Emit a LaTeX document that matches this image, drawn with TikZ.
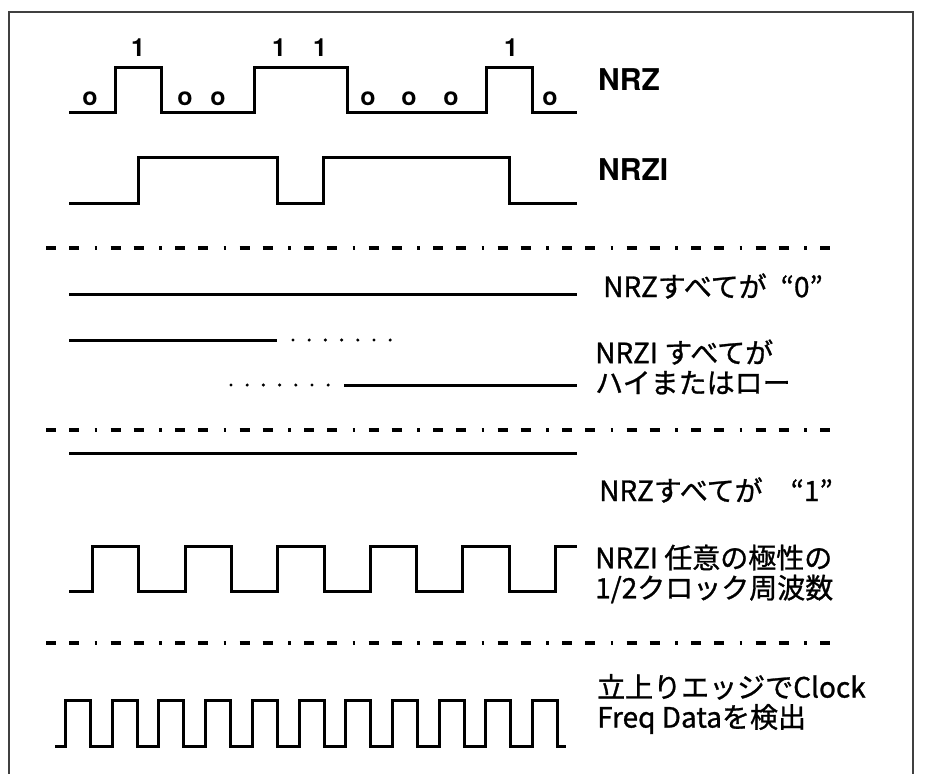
\documentclass[tikz,border=0pt]{standalone}
\usepackage{fontspec}
\usepackage{tikz}
\usepackage{xcolor}
\newfontfamily\herosfont{TeX Gyre Heros}
\newfontfamily\jpfont[FakeBold=1]{Noto Sans CJK JP}
\newcommand\bitfont{\herosfont\bfseries\fontsize{25}{25}\selectfont}
\newcommand\namefont{\herosfont\bfseries\fontsize{30}{30}\selectfont}
\newcommand\notefont{\jpfont\fontsize{28}{30}\selectfont}
\tikzset{
  wave/.style={line width=3pt, line join=miter},
  level/.style={line width=3pt},
  dotlevel/.style={line width=3.4pt, line cap=round, dash pattern=on 0pt off 16.2pt},
  sepline/.style={line width=3.5pt, dash pattern=on 10pt off 13pt on 10pt off 15.5pt on 2.5pt off 13.5pt},
  bitlbl/.style={inner sep=0pt, font=\bitfont},
  signame/.style={anchor=west, inner sep=0pt, font=\namefont},
  note/.style={anchor=west, inner sep=0pt, align=left, font=\notefont}
}

\begin{document}
\begin{tikzpicture}[x=1pt,y=1pt,yscale=-1,xscale=1]
\useasboundingbox (0,0) rectangle (930,774);
%Frame
\draw [color=black!75, line width=1.5]   (9,774) -- (9,12) -- (913,12) -- (913,774) ;
%Shape: NRZ signal
\draw [wave]   (69,112) -- (115,112) -- (115,67) -- (161,67) -- (161,112) -- (254,112) -- (254,67) -- (347,67) -- (347,112) -- (486,112) -- (486,67) -- (532,67) -- (532,112) -- (577,112) ;
%Text Node bits
\node [bitlbl] (b1a) at (138,48) {1};
\node [bitlbl] (b1b) at (279,48) {1};
\node [bitlbl] (b1c) at (320,48) {1};
\node [bitlbl] (b1d) at (511,48) {1};
\node [bitlbl] (b0a) at (90,99) {o};
\node [bitlbl] (b0b) at (185,99) {o};
\node [bitlbl] (b0c) at (218,99) {o};
\node [bitlbl] (b0d) at (368,99) {o};
\node [bitlbl] (b0e) at (409,99) {o};
\node [bitlbl] (b0f) at (451,99) {o};
\node [bitlbl] (b0g) at (550,99) {o};
%Text Node
\node [signame] (nrz) at (598,80) {NRZ};
%Shape: NRZI signal
\draw [wave]   (69,203) -- (138,203) -- (138,157) -- (277,157) -- (277,203) -- (323,203) -- (323,157) -- (509,157) -- (509,203) -- (577,203) ;
%Text Node
\node [signame] (nrzi) at (598,170) {NRZI};
%Straight Lines separator
\draw [sepline]   (46,248) -- (842,248) ;
%Straight Lines all zero
\draw [level]   (69,294) -- (577,294) ;
\node [note] (allzero) at (603,286) {NRZすべてが\hspace{14pt}“0”};
%Straight Lines high or low
\draw [level]   (69,340) -- (277,340) ;
\draw [dotlevel]   (293,340) -- (392,340) ;
\draw [dotlevel]   (231,385) -- (330,385) ;
\draw [level]   (344,385) -- (577,385) ;
\node [note] (hilo) at (595,367) {NRZI すべてが\\ハイまたはロー};
%Straight Lines separator
\draw [sepline]   (46,430) -- (842,430) ;
%Straight Lines all one
\draw [level]   (69,453) -- (577,453) ;
\node [note] (allone) at (599,490) {NRZすべてが\hspace{28pt}“1”};
%Shape: NRZI half clock
\draw [wave]   (69,591) -- (92,591) -- (92,546) -- (138,546) -- (138,591) -- (185,591) -- (185,546) -- (231,546) -- (231,591) -- (277,591) -- (277,546) -- (324,546) -- (324,591) -- (370,591) -- (370,546) -- (416,546) -- (416,591) -- (462,591) -- (462,546) -- (509,546) -- (509,591) -- (555,591) -- (555,546) -- (577,546) ;
\node [note] (halfclk) at (595,574) {NRZI 任意の極性の\\1/2クロック周波数};
%Straight Lines separator
\draw [sepline]   (46,643) -- (842,643) ;
%Shape: clock
\draw [wave]   (55,746) -- (65,746) -- (65,700) -- (90,700) -- (90,746) -- (112,746) -- (112,700) -- (137,700) -- (137,746) -- (158,746) -- (158,700) -- (183,700) -- (183,746) -- (205,746) -- (205,700) -- (230,700) -- (230,746) -- (252,746) -- (252,700) -- (277,700) -- (277,746) -- (299,746) -- (299,700) -- (324,700) -- (324,746) -- (345,746) -- (345,700) -- (370,700) -- (370,746) -- (392,746) -- (392,700) -- (417,700) -- (417,746) -- (439,746) -- (439,700) -- (464,700) -- (464,746) -- (485,746) -- (485,700) -- (510,700) -- (510,746) -- (532,746) -- (532,700) -- (557,700) -- (557,746) -- (566,746) ;
\node [note] (clk) at (597,704) {立上りエッジでClock\\Freq Dataを検出};

\end{tikzpicture}
\end{document}
